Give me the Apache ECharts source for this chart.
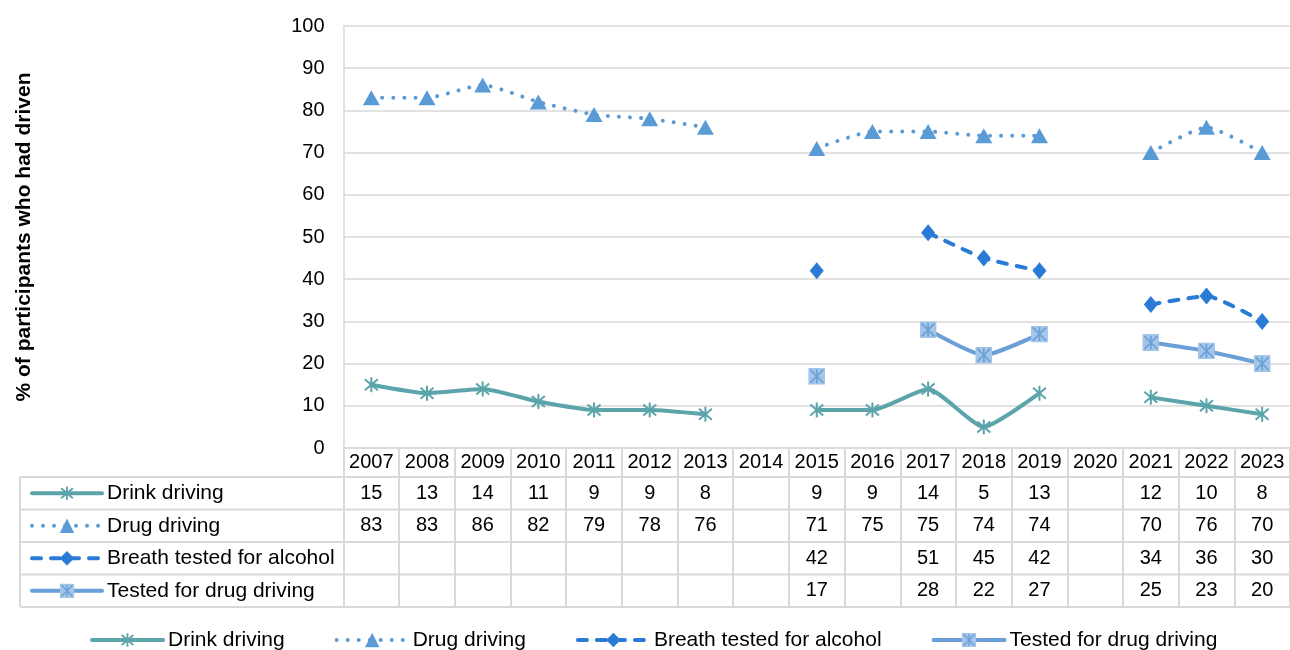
<!DOCTYPE html>
<html>
<head>
<meta charset="utf-8">
<script src="https://cdn.jsdelivr.net/npm/echarts@6/dist/echarts.min.js"></script>
<style>
  html, body { margin: 0; padding: 0; background: #fff; }
  #chart { width: 1290px; height: 650px; }
</style>
</head>
<body>
<div id="chart"></div>
<script>
// Survey years (category axis / table header)
const years = ['2007', '2008', '2009', '2010', '2011', '2012', '2013', '2014', '2015',
  '2016', '2017', '2018', '2019', '2020', '2021', '2022', '2023'];

// % of participants who had driven
const drinkDriving = [15, 13, 14, 11, 9, 9, 8, null, 9, 9, 14, 5, 13, null, 12, 10, 8];
const drugDriving  = [83, 83, 86, 82, 79, 78, 76, null, 71, 75, 75, 74, 74, null, 70, 76, 70];
const breathTested = [null, null, null, null, null, null, null, null, 42, null, 51, 45, 42, null, 34, 36, 30];
const testedDrug   = [null, null, null, null, null, null, null, null, 17, null, 28, 22, 27, null, 25, 23, 20];

const seriesNames = ['Drink driving', 'Drug driving', 'Breath tested for alcohol', 'Tested for drug driving'];

const FONT = '"Liberation Sans", Arial, sans-serif';
const GRID_COLOR = '#D9D9D9';
const C_DRINK = '#5BA4AA';
const C_DRUG = '#5B9BD5';
const C_BREATH = '#2A7BD6';
const C_TESTED = '#6A9FD8';

function svgSymbol(svg) {
  return 'image://data:image/svg+xml;charset=utf-8,' + encodeURIComponent(svg);
}
const asteriskSymbol = svgSymbol(
  "<svg xmlns='http://www.w3.org/2000/svg' width='32' height='32' viewBox='0 0 16 16'>" +
  "<path d='M8 0.5V15.5M1.5 2.5L14.5 13.5M14.5 2.5L1.5 13.5' stroke='" + C_DRINK + "' stroke-width='2' fill='none'/></svg>");
const boxAsteriskSymbol = svgSymbol(
  "<svg xmlns='http://www.w3.org/2000/svg' width='34' height='34' viewBox='0 0 17 17'>" +
  "<rect x='0' y='0' width='17' height='17' fill='#A3C5E8'/>" +
  "<path d='M8.5 1.5V15.5M2 2L15 15M15 2L2 15' stroke='" + C_TESTED + "' stroke-width='1.6' fill='none'/></svg>");

// Layout of the plot and the data table beneath it
const PLOT_LEFT = 343.5, PLOT_TOP = 26, PLOT_W = 953, PLOT_H = 422;
const AXIS_Y = PLOT_TOP + PLOT_H;         // x-axis line
const HEADER_H = 29, ROW_H = 32.5;
const TABLE_LEFT = 20;
const rowCenter = i => AXIS_Y + HEADER_H + ROW_H * i + ROW_H / 2;

const tableRows = [drinkDriving, drugDriving, breathTested, testedDrug];

const chart = echarts.init(document.getElementById('chart'));

const xAxes = [{
  type: 'category',
  data: years,
  boundaryGap: true,
  axisLine: { show: true, lineStyle: { color: GRID_COLOR, width: 1.5 } },
  axisTick: { show: true, interval: 0, length: HEADER_H + ROW_H * 4, lineStyle: { color: GRID_COLOR, width: 2 } },
  axisLabel: { interval: 0, fontSize: 20, fontFamily: FONT, color: '#000', margin: HEADER_H / 2, verticalAlign: 'middle' },
  splitLine: { show: false }
}];
// Table rows: one category axis per series, showing its values
tableRows.forEach((vals, i) => {
  xAxes.push({
    type: 'category',
    gridIndex: 0,
    position: 'bottom',
    offset: rowCenter(i) - AXIS_Y,
    data: vals.map(v => v == null ? '' : String(v)),
    axisLine: { show: false },
    axisTick: { show: false },
    splitLine: { show: false },
    axisLabel: { interval: 0, fontSize: 20, fontFamily: FONT, color: '#000', margin: 0, verticalAlign: 'middle' }
  });
});

// Horizontal rules of the table
const tableLines = [];
for (let i = 0; i <= 4; i++) {
  const y = AXIS_Y + HEADER_H + ROW_H * i;
  tableLines.push({
    type: 'line', silent: true,
    shape: { x1: TABLE_LEFT, y1: y, x2: 1290, y2: y },
    style: { stroke: GRID_COLOR, lineWidth: 2 }
  });
}
tableLines.push({
  type: 'line', silent: true,
  shape: { x1: TABLE_LEFT, y1: AXIS_Y + HEADER_H, x2: TABLE_LEFT, y2: AXIS_Y + HEADER_H + ROW_H * 4 },
  style: { stroke: GRID_COLOR, lineWidth: 2 }
});

const SMOOTH = 0.18;

const option = {
  animation: false,
  backgroundColor: '#fff',
  textStyle: { fontFamily: FONT },
  grid: { left: PLOT_LEFT, top: PLOT_TOP, width: PLOT_W, height: PLOT_H, containLabel: false },
  xAxis: xAxes,
  yAxis: {
    type: 'value',
    min: 0, max: 100, interval: 10,
    axisLine: { show: true, lineStyle: { color: GRID_COLOR, width: 1.5 } },
    axisTick: { show: false },
    splitLine: { show: true, lineStyle: { color: GRID_COLOR, width: 1.5 } },
    axisLabel: { fontSize: 20, fontFamily: FONT, color: '#000', margin: 19 },
    name: '% of participants who had driven',
    nameLocation: 'middle',
    nameRotate: 90,
    nameGap: 309,
    nameTextStyle: { fontSize: 21, fontWeight: 'bold', fontFamily: FONT, color: '#000' }
  },
  legend: [{
    // key column of the data table
    data: seriesNames,
    orient: 'vertical',
    left: 30, top: rowCenter(0) - 12,
    padding: 0,
    itemWidth: 70, itemHeight: 18, itemGap: ROW_H - 24,
    selectedMode: false,
    lineStyle: { width: 4 },
    textStyle: { fontSize: 21, lineHeight: 24, fontFamily: FONT, color: '#000' }
  }, {
    data: seriesNames,
    orient: 'horizontal',
    left: 90, top: 628,
    padding: 0,
    itemWidth: 71, itemHeight: 18, itemGap: 50,
    selectedMode: false,
    lineStyle: { width: 4 },
    textStyle: { fontSize: 21, lineHeight: 24, fontFamily: FONT, color: '#000' }
  }],
  graphic: tableLines,
  series: [{
    name: seriesNames[0],
    type: 'line',
    data: drinkDriving,
    smooth: SMOOTH,
    connectNulls: false,
    symbol: asteriskSymbol,
    symbolSize: 16,
    lineStyle: { color: C_DRINK, width: 4, cap: 'round', join: 'round' },
    itemStyle: { color: C_DRINK }
  }, {
    name: seriesNames[1],
    type: 'line',
    data: drugDriving,
    smooth: SMOOTH,
    connectNulls: false,
    symbol: 'triangle',
    symbolSize: [17, 15],
    lineStyle: { color: C_DRUG, width: 4, type: [0.01, 11], cap: 'round' },
    itemStyle: { color: C_DRUG }
  }, {
    name: seriesNames[2],
    type: 'line',
    data: breathTested,
    smooth: SMOOTH,
    connectNulls: false,
    symbol: 'diamond',
    symbolSize: [14, 17],
    lineStyle: { color: C_BREATH, width: 4, type: [9, 10], cap: 'round' },
    itemStyle: { color: C_BREATH }
  }, {
    name: seriesNames[3],
    type: 'line',
    data: testedDrug,
    smooth: SMOOTH,
    connectNulls: false,
    symbol: boxAsteriskSymbol,
    symbolSize: 17,
    lineStyle: { color: C_TESTED, width: 4, cap: 'round', join: 'round' },
    itemStyle: { color: C_TESTED }
  }]
};

chart.setOption(option);
</script>
</body>
</html>
